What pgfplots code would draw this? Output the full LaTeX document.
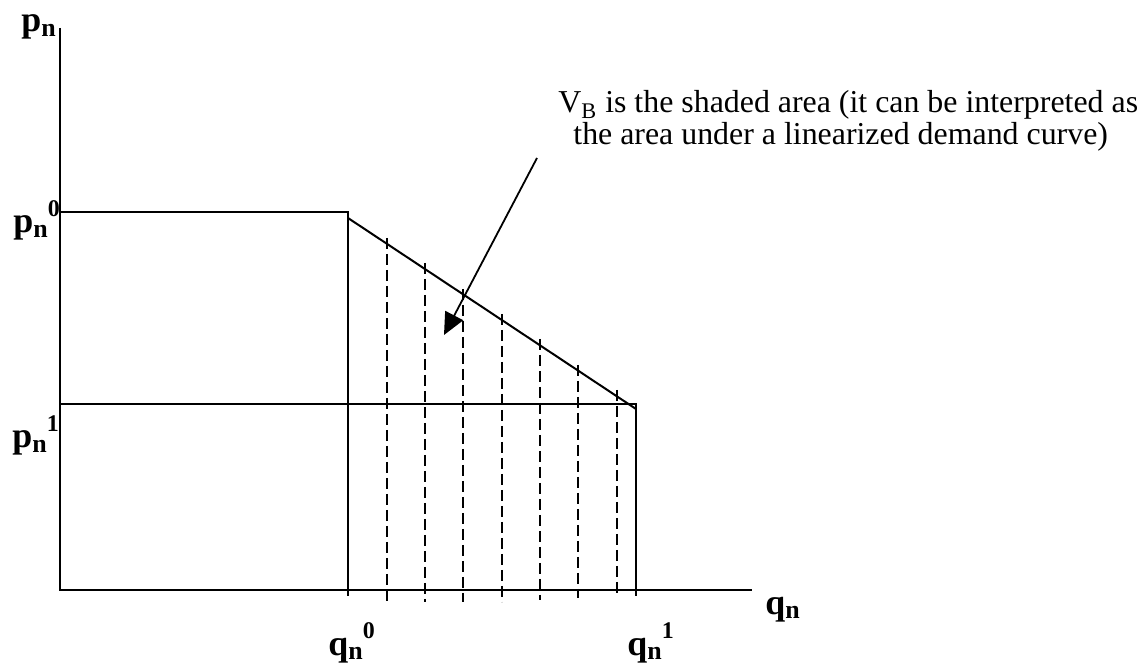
\documentclass[border=0pt]{standalone}
\usepackage{fontspec}
\setmainfont{Liberation Serif}
\usepackage{pgfplots}
\pgfplotsset{compat=1.18}
\usetikzlibrary{arrows.meta}

% bold label: big letter, subscript n, superscript mark
\newcommand{\lab}[2]{{\fontsize{18}{20}\selectfont\bfseries #1\raisebox{-0.3ex}{\fontsize{13}{14}\selectfont n}\raisebox{1.0ex}{\fontsize{12}{14}\selectfont #2}}}

\begin{document}
\begin{tikzpicture}
\begin{axis}[
  width=570.5bp, height=332.5bp, scale only axis,
  xmin=-60, xmax=1081, ymin=-75, ymax=590,
  hide axis, clip=false,
  hatch/.style={black, line width=0.9bp, dash pattern=on 5.5bp off 2.5bp},
]
% axes
\addplot[black, line width=1bp] coordinates {(0,562) (0,0) (692,0)};
% price lines and quantities
\addplot[black, line width=1bp] coordinates {(0,378) (288,378) (288,-6)};
\addplot[black, line width=1bp] coordinates {(0,186) (576,186) (576,-6)};
% linearized demand
\addplot[black, line width=1bp] coordinates {(288,372) (576,181)};
% shading strokes
\addplot[hatch] coordinates {(326.7,352) (326.7,-12)};
\addplot[hatch] coordinates {(365,327) (365,-12)};
\addplot[hatch] coordinates {(403.3,301) (403.3,-12)};
\addplot[hatch] coordinates {(441.7,276) (441.7,-12)};
\addplot[hatch] coordinates {(480,251) (480,-10)};
\addplot[hatch] coordinates {(518.3,225) (518.3,-8)};
\addplot[hatch] coordinates {(556.7,200) (556.7,-6)};
% arrow
\addplot[black, line width=0.9bp, -{Triangle[length=11bp,width=10bp]}] coordinates {(477,432) (384,255)};
% texts
\node[anchor=base west, inner sep=0pt, font=\fontsize{16}{18}\selectfont] at (axis cs:498,477) {V\textsubscript{B} is the shaded area (it can be interpreted as};
\node[anchor=base west, inner sep=0pt, font=\fontsize{16}{18}\selectfont] at (axis cs:513,445) {the area under a linearized demand curve)};
\node[anchor=base west, inner sep=0pt] at (axis cs:-39,558) {\lab{p}{}};
\node[anchor=base west, inner sep=0pt] at (axis cs:-47,357) {\lab{p}{0}};
\node[anchor=base west, inner sep=0pt] at (axis cs:-48,142) {\lab{p}{1}};
\node[anchor=base west, inner sep=0pt] at (axis cs:268,-65) {\lab{q}{0}};
\node[anchor=base west, inner sep=0pt] at (axis cs:567,-65) {\lab{q}{1}};
\node[anchor=base west, inner sep=0pt] at (axis cs:705,-24) {\lab{q}{}};
\coordinate (sw) at (axis cs:-60,-75);
\coordinate (ne) at (axis cs:1081,590);
\end{axis}
\pgfresetboundingbox
\path (sw) rectangle (ne);
\end{tikzpicture}
\end{document}
